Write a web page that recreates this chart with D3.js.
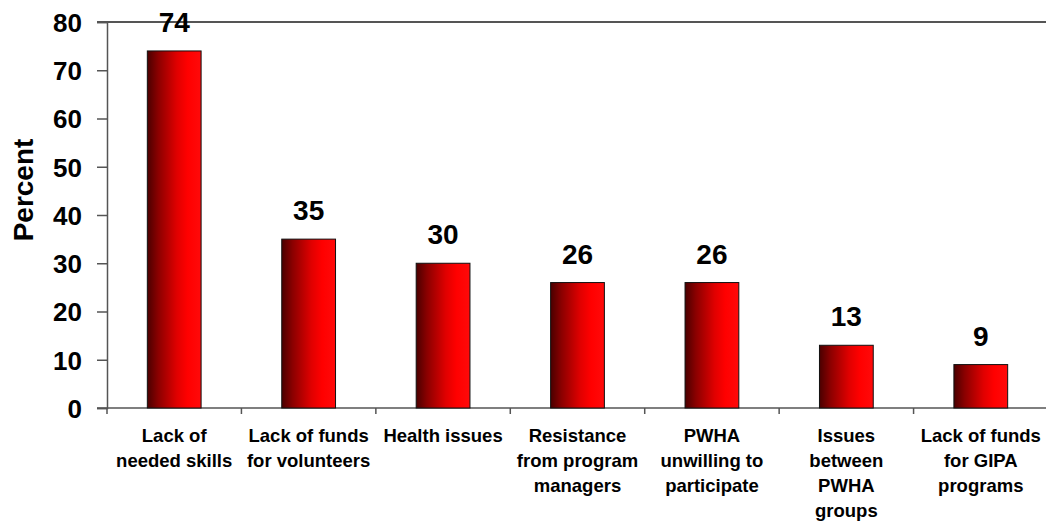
<!DOCTYPE html>
<html>
<head>
<meta charset="utf-8">
<script src="https://cdn.jsdelivr.net/npm/d3@7"></script>
<style>
  body { margin: 0; background: #fff; }
  svg { display: block; font-family: Arial, "Liberation Sans", sans-serif; }
</style>
</head>
<body>
<div id="main"></div>
<script>
// chart data
var categories = [
    ['Lack of', 'needed skills'],
    ['Lack of funds', 'for volunteers'],
    ['Health issues'],
    ['Resistance', 'from program', 'managers'],
    ['PWHA', 'unwilling to', 'participate'],
    ['Issues', 'between', 'PWHA', 'groups'],
    ['Lack of funds', 'for GIPA', 'programs']
];
var values = [74, 35, 30, 26, 26, 13, 9];
var yTicks = [0, 10, 20, 30, 40, 50, 60, 70, 80];

const w = 1046;
const h = 521;

// plot area //
const plotLeft = 107, plotRight = 1048, plotTop = 22, plotBottom = 408;

const svg = d3.select('#main')
            .append('svg')
            .attr('width', w)
            .attr('height', h);

// bar gradient, dark on the left to bright red
const grad = svg.append('defs')
                .append('linearGradient')
                .attr('id', 'barGrad')
                .attr('x1', '0%').attr('x2', '100%')
                .attr('y1', '0%').attr('y2', '0%');
[[0, '#4a0000'], [0.2, '#8a0000'], [0.55, '#e00000'], [0.75, '#ff0000'], [1, '#ff0a0a']]
    .forEach(s => grad.append('stop').attr('offset', s[0]).attr('stop-color', s[1]));

const x = d3.scaleBand()
            .domain(d3.range(categories.length))
            .range([plotLeft, plotRight])
            .paddingInner(0.6)
            .paddingOuter(0.3);

const y = d3.scaleLinear()
            .domain([0, 80])
            .range([plotBottom, plotTop]);

// band edges for the x ticks
const step = x.step();
const x0 = x(0) - x.paddingOuter() * step;

// top line at 80
svg.append('line')
    .attr('x1', plotLeft - 10).attr('x2', w)
    .attr('y1', y(80)).attr('y2', y(80))
    .attr('stroke', '#555').attr('stroke-width', 2);

// y axis
const yAxis = d3.axisLeft(y)
                .tickValues(yTicks)
                .tickSize(10)
                .tickPadding(15);
const gy = svg.append('g')
    .attr('transform', `translate(${plotLeft},0)`)
    .call(yAxis);
gy.select('.domain').attr('stroke', '#555').attr('stroke-width', 1.5);
gy.selectAll('.tick line').attr('stroke', '#555').attr('stroke-width', 1.5);
gy.selectAll('.tick text')
    .attr('fill', '#000')
    .style('font-size', '26px')
    .style('font-weight', 'bold')
    .attr('dy', '0.36em');

// x axis line and ticks between bands
svg.append('line')
    .attr('x1', plotLeft - 10).attr('x2', w)
    .attr('y1', plotBottom).attr('y2', plotBottom)
    .attr('stroke', '#555').attr('stroke-width', 1.5);

svg.append('g')
    .selectAll('line')
    .data(d3.range(categories.length + 1))
    .enter()
    .append('line')
    .attr('x1', i => x0 + i * step)
    .attr('x2', i => x0 + i * step)
    .attr('y1', plotBottom)
    .attr('y2', plotBottom + 6)
    .attr('stroke', '#555')
    .attr('stroke-width', 1.5);

// bars
svg.append('g')
    .selectAll('rect')
    .data(values)
    .enter()
    .append('rect')
    .attr('x', (d, i) => x(i))
    .attr('y', d => y(d))
    .attr('width', x.bandwidth())
    .attr('height', d => y(0) - y(d))
    .attr('fill', 'url(#barGrad)')
    .attr('stroke', '#111')
    .attr('stroke-width', 1);

// value labels
svg.append('g')
    .selectAll('text')
    .data(values)
    .enter()
    .append('text')
    .attr('x', (d, i) => x(i) + x.bandwidth() / 2)
    .attr('y', d => y(d) - 19)
    .attr('text-anchor', 'middle')
    .style('font-size', '28px')
    .style('font-weight', 'bold')
    .text(d => d);

// category labels
const cat = svg.append('g')
    .selectAll('text')
    .data(categories)
    .enter()
    .append('text')
    .attr('x', (d, i) => x(i) + x.bandwidth() / 2)
    .attr('y', 442)
    .attr('text-anchor', 'middle')
    .style('font-size', '18.5px')
    .style('font-weight', 'bold');

cat.selectAll('tspan')
    .data(d => d)
    .enter()
    .append('tspan')
    .attr('x', function() { return d3.select(this.parentNode).attr('x'); })
    .attr('dy', (d, i) => i === 0 ? 0 : 25)
    .text(d => d);

// y axis title
svg.append('text')
    .attr('transform', 'translate(33,190) rotate(-90)')
    .attr('text-anchor', 'middle')
    .style('font-size', '28px')
    .style('font-weight', 'bold')
    .text('Percent');
</script>
</body>
</html>
